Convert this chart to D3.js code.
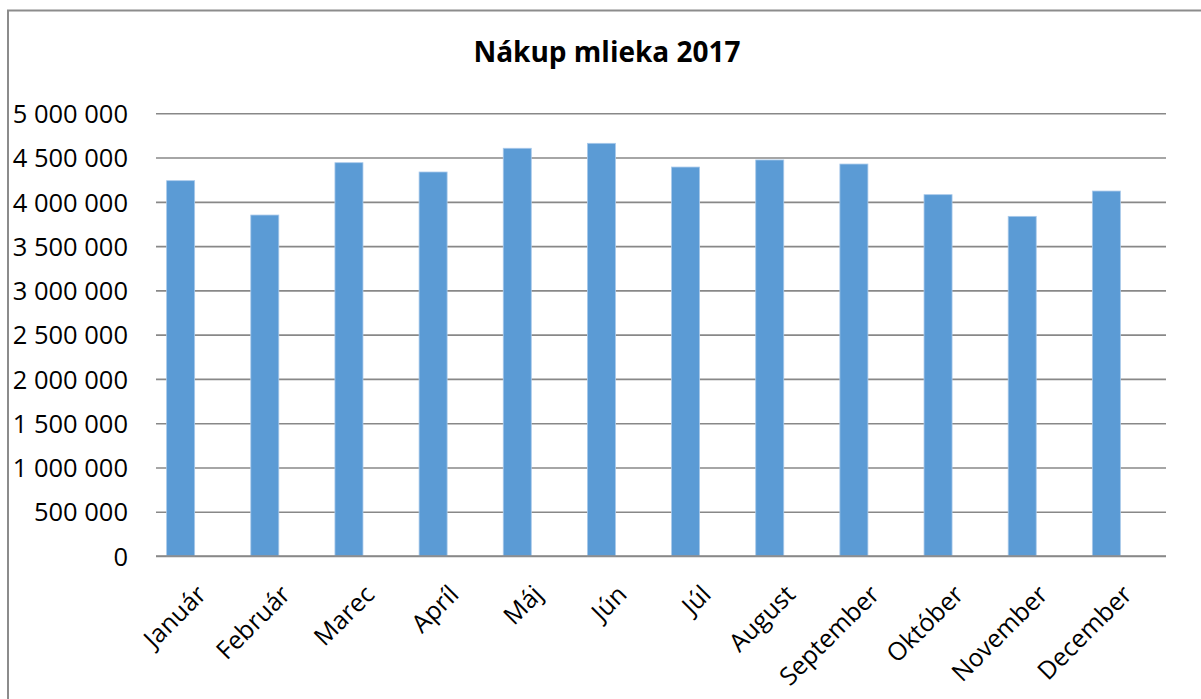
<!DOCTYPE html>
<html>
<head>
<meta charset="utf-8">
<script src="https://cdn.jsdelivr.net/npm/d3@7"></script>
<style>
  body { margin: 0; background: #fff; }
  svg { display: block; }
  svg text { font-family: "Open Sans", "DejaVu Sans", sans-serif; }
</style>
</head>
<body>
<svg id="chart"></svg>
<script>
// Chart size
const width = 1201;
const height = 699;

// Data
const months = ["Január", "Február", "Marec", "Apríl", "Máj", "Jún",
  "Júl", "August", "September", "Október", "November", "December"];
const purchases = [4239000, 3851000, 4442000, 4337000, 4605000, 4661000,
  4393000, 4473000, 4427000, 4081000, 3836000, 4122000];
const yTicks = [0, 500000, 1000000, 1500000, 2000000, 2500000,
  3000000, 3500000, 4000000, 4500000, 5000000];

const plotLeft = 156;
const plotRight = 1166;
const plotTop = 113.3;
const plotBottom = 556;

const svg = d3.select("#chart").attr("width", width).attr("height", height);

// chart frame (only left + top edges are visible)
svg.append("rect")
  .attr("x", 8).attr("y", 10.5)
  .attr("width", 1300).attr("height", 900)
  .attr("fill", "none")
  .attr("stroke", "#8c8c8c")
  .attr("stroke-width", 2);

// Scales
const x = d3.scaleBand()
  .domain(months)
  .range([138.6, 1148.4])
  .paddingInner(0.667)
  .paddingOuter(0.333);

const y = d3.scaleLinear()
  .domain([0, 5000000])
  .range([plotBottom, plotTop]);

const fmt = (v) => d3.format(",")(v).replace(/,/g, " ");

// gridlines + y labels
const yAxis = svg.append("g")
  .attr("transform", `translate(${plotLeft},0)`)
  .call(d3.axisLeft(y)
    .tickValues(yTicks)
    .tickSize(-(plotRight - plotLeft))
    .tickPadding(28)
    .tickFormat(fmt));
yAxis.select(".domain").remove();
yAxis.selectAll(".tick line")
  .attr("stroke", "#888")
  .attr("stroke-width", 1.6);
yAxis.selectAll(".tick text")
  .attr("fill", "#000")
  .style("font-size", "25.5px")
  .attr("dy", "0.36em");

// bars
svg.selectAll(".bar")
  .data(months)
  .enter()
  .append("rect")
  .attr("class", "bar")
  .attr("x", (d) => x(d))
  .attr("y", (d, i) => y(purchases[i]))
  .attr("width", x.bandwidth())
  .attr("height", (d, i) => plotBottom - y(purchases[i]))
  .attr("fill", "#5b9bd5")
  .attr("stroke", "#a9c9ea")
  .attr("stroke-width", 0.8);

// redraw the baseline on top of the bars
svg.append("line")
  .attr("x1", plotLeft).attr("x2", plotRight)
  .attr("y1", plotBottom).attr("y2", plotBottom)
  .attr("stroke", "#888")
  .attr("stroke-width", 1.6);

// x labels, rotated
const xAxis = svg.append("g")
  .attr("transform", `translate(0,${plotBottom})`)
  .call(d3.axisBottom(x).tickSize(0).tickPadding(0));
xAxis.select(".domain").remove();
xAxis.selectAll(".tick text")
  .attr("fill", "#000")
  .style("font-size", "25px")
  .attr("text-anchor", "end")
  .attr("dy", null)
  .attr("y", null)
  .attr("transform", "translate(27,40) rotate(-45)");

// title
svg.append("text")
  .attr("x", 607)
  .attr("y", 62)
  .attr("text-anchor", "middle")
  .style("font-size", "28px")
  .style("font-weight", "bold")
  .text("Nákup mlieka 2017");
</script>
</body>
</html>
